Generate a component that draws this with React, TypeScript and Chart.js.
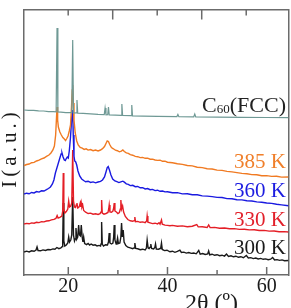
import { useEffect, useRef } from 'react';
import { Chart, registerables } from 'chart.js';

Chart.register(...registerables);

const FONT = "'Liberation Serif', 'Times New Roman', serif";

// 2θ (deg), intensity (a.u., offset-stacked)
const c60Fcc: [number, number][] = [
  [11.1, 165], [12, 164.6], [13, 164.7], [14, 164.1], [15, 164], [16, 163.4], [17, 163.4], [17.55, 163.2],
  [17.73, 247], [17.9, 163], [18.5, 162.9], [19.5, 162.4], [20.7, 162.3], [20.89, 235], [21.05, 162],
  [21.6, 162.1], [21.75, 175], [21.9, 161.9], [23, 161.6], [24.5, 161.1], [26, 160.6], [27.25, 160.4],
  [27.42, 167], [27.6, 160.2], [27.95, 160.3], [28.1, 168], [28.25, 160.1], [29.5, 159.9], [30.65, 159.7],
  [30.8, 171], [30.95, 159.5], [32.65, 159.3], [32.8, 170], [32.95, 159.1], [35, 158.9], [38, 158.6],
  [41.9, 158.4], [42.1, 160.5], [42.3, 158.3], [45.3, 158.2], [45.5, 161], [45.7, 158], [50, 157.9],
  [55, 157.6], [60, 157.5], [64.4, 157.3],
];

const k385: [number, number][] = [
  [11.1, 109.5], [11.6, 110.5], [12.1, 111], [12.6, 112.3], [13.1, 112.6], [13.6, 114], [14.1, 114.8],
  [14.6, 116.2], [15.1, 117], [15.6, 118.7], [16.1, 120], [16.5, 122], [16.9, 125], [17.2, 129],
  [17.45, 140], [17.6, 155], [17.73, 168], [17.85, 155], [18.0, 148], [18.3, 143], [18.6, 140],
  [18.9, 137.5], [19.2, 136], [19.45, 134.5], [19.7, 136.5], [19.95, 139], [20.2, 144], [20.45, 150],
  [20.65, 168], [20.8, 185], [20.89, 190], [21.0, 172], [21.15, 155], [21.4, 142], [21.7, 134],
  [22.0, 130], [22.4, 127.5], [22.8, 126.8], [23.2, 125.6], [23.6, 126.2], [24.0, 124.9], [24.5, 125.4],
  [25.0, 124.3], [25.5, 124.9], [26.0, 124.1], [26.5, 125], [26.9, 126.3], [27.3, 128.5], [27.6, 131.5],
  [27.85, 134], [28.1, 133.5], [28.35, 130.5], [28.7, 127.5], [29.1, 126.2], [29.5, 124.8], [29.9, 124.3],
  [30.3, 123.2], [30.7, 123.9], [31.0, 125], [31.3, 123.5], [31.7, 122.1], [32.1, 121.6], [32.5, 120.3],
  [33.0, 119.8], [33.5, 118.6], [34.0, 118.3], [34.5, 117.4], [35.0, 117.6], [35.5, 116.7], [36.0, 116.9],
  [36.5, 115.8], [37.0, 115.9], [37.5, 115], [38.0, 114.6], [38.5, 114.8], [39.0, 113.7], [39.5, 113.9],
  [40.0, 112.8], [41.0, 112.3], [42.0, 111.2], [43.0, 110.6], [44.0, 109.5], [45.0, 109.1], [46.0, 107.8],
  [47.0, 107.4], [48.0, 106.3], [49.0, 106], [50.0, 104.9], [51.0, 104.6], [52.0, 103.6], [53.0, 103.1],
  [54.0, 102.4], [55.0, 101.6], [56.0, 101.3], [57.0, 100.4], [58.0, 100.2], [59.0, 99.3], [60.0, 99.4],
  [61.0, 98.6], [62.0, 98.8], [63.0, 97.9], [64.4, 98],
];

const k360: [number, number][] = [
  [11.1, 81], [11.6, 81.8], [12.1, 81.2], [12.6, 82.5], [13.1, 82.1], [13.6, 83.4], [14.1, 82.9],
  [14.6, 84.2], [15.1, 84], [15.6, 85.3], [16.0, 86.5], [16.4, 88], [16.8, 91], [17.1, 95], [17.4, 102],
  [17.7, 107], [18.0, 112], [18.3, 117], [18.55, 121], [18.73, 122], [18.95, 118], [19.2, 115],
  [19.4, 114.5], [19.6, 116.5], [19.8, 118], [20.0, 117], [20.2, 124], [20.45, 138], [20.7, 158],
  [20.89, 165], [21.0, 140], [21.15, 119], [21.3, 114], [21.5, 113], [21.7, 110], [21.95, 104],
  [22.3, 99], [22.7, 96], [23.1, 94.5], [23.5, 93.2], [24.0, 93.8], [24.5, 92.6], [25.0, 93.1],
  [25.5, 92.2], [26.0, 93], [26.5, 93.6], [26.9, 95], [27.3, 98], [27.6, 103], [27.85, 107.5],
  [28.05, 108.5], [28.3, 105], [28.6, 100], [28.95, 96], [29.4, 94], [29.8, 93.3], [30.2, 92.4],
  [30.6, 93.2], [31.0, 93.8], [31.3, 92.9], [31.7, 91.2], [32.1, 90.6], [32.5, 89.4], [33.0, 89.7],
  [33.5, 88.3], [34.0, 88.5], [34.5, 87.2], [35.0, 87.4], [35.5, 86.1], [36.0, 86.5], [36.5, 85.3],
  [37.0, 85.6], [37.5, 84.4], [38.0, 84.8], [38.5, 83.7], [39.0, 84], [39.5, 83.1], [40.0, 83.3],
  [41.0, 82.2], [42.0, 82.4], [43.0, 81.1], [44.0, 81.3], [45.0, 80.2], [46.0, 80.3], [47.0, 79.1],
  [48.0, 78.9], [49.0, 78.4], [50.0, 77.6], [51.0, 77.5], [52.0, 76.4], [53.0, 76.3], [54.0, 75.3],
  [55.0, 75.1], [56.0, 74.2], [57.0, 74], [58.0, 73.1], [59.0, 72.8], [60.0, 72], [61.0, 71.6],
  [62.0, 70.7], [63.0, 70.1], [64.4, 69.2],
];

const k330: [number, number][] = [
  [11.1, 51], [11.6, 51.6], [12.1, 51.2], [12.6, 52.1], [13.1, 51.8], [13.6, 52.7], [14.1, 52.4],
  [14.6, 53.3], [15.1, 53.1], [15.6, 54], [16.1, 54.2], [16.6, 55.1], [17.1, 55.6], [17.5, 56.5],
  [17.75, 59.5], [17.95, 57], [18.3, 57.6], [18.7, 59], [18.88, 64], [18.99, 102], [19.1, 66],
  [19.3, 62], [19.6, 63.5], [19.9, 66], [20.08, 74], [20.25, 68], [20.5, 69], [20.7, 72], [20.89, 125],
  [21.05, 74], [21.25, 68], [21.45, 67.5], [21.6, 70], [21.75, 72], [21.9, 67], [22.1, 67.5],
  [22.25, 69], [22.41, 72], [22.52, 68], [22.62, 72], [22.75, 68], [22.9, 70], [23.1, 64.5],
  [23.5, 62.8], [24.0, 61.5], [24.5, 61.9], [25.0, 60.8], [25.5, 61.2], [26.0, 60.5], [26.4, 61.3],
  [26.6, 63], [26.72, 75], [26.85, 62], [27.2, 60.8], [27.6, 61.5], [28.0, 62.5], [28.15, 66],
  [28.25, 70], [28.4, 63], [28.7, 62.8], [29.0, 64], [29.15, 67], [29.26, 72], [29.4, 64], [29.7, 63],
  [30.0, 61.5], [30.3, 62.5], [30.5, 66], [30.6, 75], [30.75, 66], [30.95, 69], [31.15, 63],
  [31.5, 58.5], [32.0, 55.5], [32.5, 54.2], [33.0, 53.8], [33.3, 54.3], [33.42, 58], [33.55, 53.3],
  [34.0, 53.6], [34.5, 52.7], [35.0, 53.1], [35.5, 52.4], [35.8, 54], [35.9, 59], [36.05, 52.8],
  [36.5, 52.2], [37.0, 51.4], [37.5, 51.8], [38.0, 51.1], [38.3, 52.3], [38.5, 50.8], [38.79, 55],
  [38.95, 50.8], [39.5, 49.9], [40.0, 49.6], [40.5, 49.2], [41.0, 49.6], [42.0, 48.8], [43.0, 49.1],
  [44.0, 48.3], [45.0, 48.8], [45.9, 50.5], [46.2, 48.1], [47.0, 48.2], [48.0, 47.5], [48.3, 50],
  [48.6, 47.4], [49.5, 47.6], [50.5, 46.8], [51.5, 47], [52.5, 46.2], [53.5, 46.4], [54.5, 45.6],
  [55.5, 45.8], [56.5, 45.1], [57.5, 45.2], [58.5, 44.5], [59.5, 44.6], [60.5, 43.9], [61.5, 44],
  [62.5, 43.3], [63.5, 43.4], [64.4, 43],
];

const k300: [number, number][] = [
  [11.1, 23], [11.6, 23.8], [12.1, 23.1], [12.6, 24.2], [13.1, 23.7], [13.5, 25], [13.7, 28], [13.9, 24.5],
  [14.4, 24.2], [14.9, 25.1], [15.4, 24.6], [15.9, 25.5], [16.4, 25.2], [16.9, 26.1], [17.3, 25.7],
  [17.7, 27.5], [18.1, 26.3], [18.5, 27], [18.8, 28.5], [18.88, 35], [18.99, 72], [19.1, 34], [19.3, 29],
  [19.6, 30], [19.9, 32], [20.08, 38], [20.25, 33], [20.5, 35], [20.7, 40], [20.89, 78], [21.05, 40],
  [21.25, 34], [21.4, 36], [21.55, 47], [21.7, 36], [21.9, 38], [22.09, 50], [22.25, 40], [22.45, 39],
  [22.62, 50], [22.8, 38], [22.95, 33], [23.1, 38], [23.3, 31.5], [23.7, 30.4], [24.0, 31.5], [24.3, 30],
  [24.6, 31], [25.0, 29.8], [25.4, 30.2], [25.8, 29.1], [26.2, 29.6], [26.5, 29], [26.6, 31], [26.72, 53],
  [26.85, 31], [27.1, 29], [27.5, 30.3], [27.9, 30], [28.1, 33], [28.25, 42], [28.4, 32], [28.7, 31],
  [29.0, 32], [29.15, 38], [29.26, 50], [29.4, 35], [29.65, 31], [29.8, 33], [29.94, 37], [30.1, 31.5],
  [30.4, 32], [30.6, 38], [30.74, 52], [30.9, 38], [31.07, 45], [31.25, 33], [31.6, 29.5], [32.0, 27.8],
  [32.5, 27.2], [33.0, 26.3], [33.25, 27], [33.42, 32], [33.6, 26.5], [34.0, 26.2], [34.5, 25.3],
  [35.0, 25.8], [35.5, 25], [35.75, 27], [35.9, 35], [36.1, 27], [36.3, 26.5], [36.5, 27.8], [36.64, 31],
  [36.8, 26.5], [37.2, 26], [37.45, 27.5], [37.59, 31], [37.75, 26], [38.2, 25.8], [38.5, 26.5],
  [38.65, 27.5], [38.79, 32], [38.95, 25.5], [39.4, 24.4], [39.9, 24.8], [40.5, 23.2], [41.0, 23.8],
  [41.5, 22.7], [42.0, 23.6], [42.5, 24.8], [42.8, 22.5], [43.3, 22.9], [43.8, 21.9], [44.3, 22.5],
  [44.8, 21.6], [45.3, 22], [45.8, 21.2], [46.3, 24.5], [46.6, 20.8], [47.1, 21.4], [47.6, 20.5],
  [48.1, 21], [48.3, 24], [48.5, 20.2], [49.0, 20.8], [49.5, 19.7], [50.0, 20.3], [50.5, 19.3],
  [51.0, 19.8], [51.5, 18.9], [51.9, 21], [52.3, 18.6], [52.8, 19.2], [53.3, 18.2], [53.8, 18.8],
  [54.3, 17.7], [54.8, 18.3], [55.3, 17.3], [55.9, 19.5], [56.3, 17], [56.8, 17.4], [57.3, 16.4],
  [57.8, 17], [58.3, 16], [58.8, 16.6], [59.3, 15.7], [59.8, 16.1], [60.3, 15.3], [60.8, 15.8],
  [61.2, 17.5], [61.6, 15], [62.1, 15.4], [62.6, 14.6], [63.1, 15.1], [63.6, 14.3], [64.4, 14.5],
];

const seriesNames = ['C60(FCC)', '385 K', '360 K', '330 K', '300 K'];
const seriesColors = ['#6f9995', '#f07a22', '#1a1ae0', '#e41e26', '#1a1a1a'];
const labelColors = ['#222222', '#f07f2a', '#1c1ce0', '#e2202a', '#1a1a1a'];
const bottomTicks = [20, 30, 40, 50, 60];
const bottomTickLabels = ['20', '', '40', '', '60'];
const topTicks = [20, 30, 40, 50, 60];
const xTitle = '2θ (º)';
const yTitle = 'I(a.u.)';

const AXIS = '#6b6b6b';

const overlay = {
  id: 'overlay',
  afterDraw(chart: any) {
    const ctx = chart.ctx as CanvasRenderingContext2D;
    const { top, bottom } = chart.chartArea;
    const xs = chart.scales.x;
    const xt = chart.scales.xTop;
    ctx.save();
    ctx.strokeStyle = AXIS;
    ctx.lineWidth = 1.5;
    bottomTicks.forEach((v, i) => {
      const px = xs.getPixelForValue(v);
      const len = i % 2 === 0 ? 8 : 5;
      ctx.beginPath();
      ctx.moveTo(px, bottom);
      ctx.lineTo(px, bottom - len);
      ctx.stroke();
    });
    topTicks.forEach((v, i) => {
      const px = xt.getPixelForValue(v);
      const len = i % 2 === 0 ? 6 : 10;
      ctx.beginPath();
      ctx.moveTo(px, top);
      ctx.lineTo(px, top + len);
      ctx.stroke();
    });

    // series labels
    const baselines = [111.5, 167.5, 196.5, 226, 254];
    const rightX = 286;
    ctx.textBaseline = 'alphabetic';
    {
      const big = `22px ${FONT}`;
      const small = `13px ${FONT}`;
      ctx.font = big;
      const wC = ctx.measureText('C').width;
      const wP = ctx.measureText('(FCC)').width;
      ctx.font = small;
      const wS = ctx.measureText('60').width;
      let x = rightX - (wC + wS + wP);
      ctx.fillStyle = labelColors[0];
      ctx.textAlign = 'left';
      ctx.font = big;
      ctx.fillText('C', x, baselines[0]);
      x += wC;
      ctx.font = small;
      ctx.fillText('60', x, baselines[0] + 1);
      x += wS;
      ctx.font = big;
      ctx.fillText('(FCC)', x, baselines[0]);
    }
    ctx.textAlign = 'right';
    ctx.font = `21px ${FONT}`;
    for (let i = 1; i < seriesNames.length; i++) {
      ctx.fillStyle = labelColors[i];
      ctx.fillText(seriesNames[i], rightX, baselines[i]);
    }

    // axis titles
    ctx.fillStyle = '#1a1a1a';
    ctx.font = `24px ${FONT}`;
    ctx.textAlign = 'left';
    ctx.fillText(xTitle, 185, 309.5);

    ctx.save();
    ctx.translate(10.5, 150);
    ctx.rotate(-Math.PI / 2);
    ctx.textAlign = 'center';
    ctx.textBaseline = 'middle';
    ctx.font = `21px ${FONT}`;
    try {
      (ctx as any).letterSpacing = '4px';
    } catch (e) {
      /* ignore */
    }
    ctx.fillText(yTitle, 2, 0);
    ctx.restore();
    ctx.restore();
  },
};

export default function App() {
  const ref = useRef<HTMLCanvasElement | null>(null);
  useEffect(() => {
    if (!ref.current) return;
    const all = [c60Fcc, k385, k360, k330, k300];
    const chart = new Chart(ref.current, {
      type: 'line',
      data: {
        datasets: all.map((pts, i) => ({
          label: seriesNames[i],
          data: pts.map(([x, y]) => ({ x, y })),
          borderColor: seriesColors[i],
          borderWidth: i === 0 ? 1.2 : 1.4,
          pointRadius: 0,
          tension: 0,
          fill: false,
        })),
      },
      options: {
        responsive: false,
        animation: false,
        events: [],
        layout: { padding: 0 },
        plugins: { legend: { display: false }, tooltip: { enabled: false }, title: { display: false } },
        scales: {
          x: {
            type: 'linear',
            position: 'bottom',
            min: 11.07,
            max: 64.4,
            grid: { display: false, drawTicks: false },
            border: { display: true, color: AXIS, width: 1.5 },
            afterBuildTicks: (s: any) => {
              s.ticks = bottomTicks.map((v) => ({ value: v }));
            },
            ticks: {
              autoSkip: false,
              maxRotation: 0,
              padding: 0,
              color: '#1a1a1a',
              font: { family: FONT, size: 20 },
              callback: (v: any) => {
                const idx = bottomTicks.indexOf(Number(v));
                return idx >= 0 ? bottomTickLabels[idx] : '';
              },
            },
            afterFit: (s: any) => {
              s.height = 33;
            },
          },
          xTop: {
            type: 'linear',
            position: 'top',
            min: 10.07,
            max: 69.5,
            grid: { display: false, drawTicks: false },
            border: { display: true, color: AXIS, width: 1.5 },
            ticks: { display: false },
            afterFit: (s: any) => {
              s.height = 9.5;
            },
          },
          y: {
            type: 'linear',
            position: 'left',
            min: 0,
            max: 265.5,
            grid: { display: false, drawTicks: false },
            border: { display: true, color: AXIS, width: 1.5 },
            ticks: { display: false },
            afterFit: (s: any) => {
              s.width = 24;
            },
          },
          yRight: {
            type: 'linear',
            position: 'right',
            min: 0,
            max: 265.5,
            grid: { display: false, drawTicks: false },
            border: { display: true, color: AXIS, width: 1.5 },
            ticks: { display: false },
            afterFit: (s: any) => {
              s.width = 2.5;
            },
          },
        },
      },
      plugins: [overlay],
    });
    return () => chart.destroy();
  }, []);
  return (
    <div style={{ position: 'fixed', left: 0, top: 0, width: 291, height: 308 }}>
      <canvas ref={ref} width={291} height={308} style={{ width: 291, height: 308, display: 'block' }} />
    </div>
  );
}
